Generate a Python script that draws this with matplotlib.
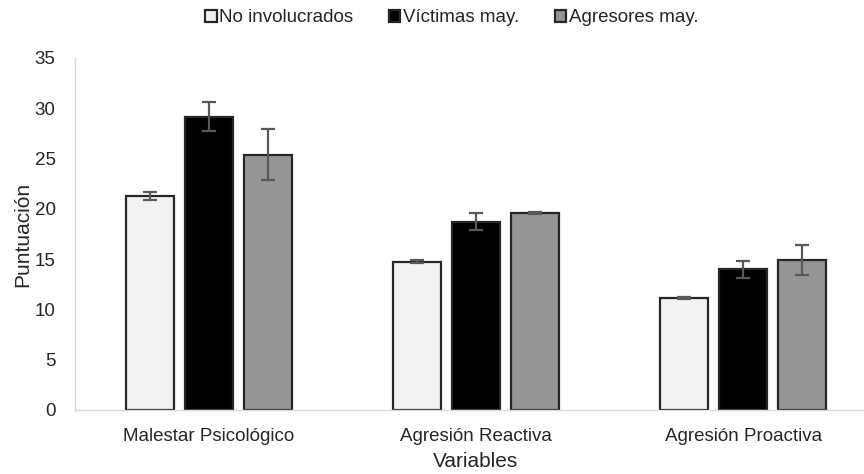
import matplotlib.pyplot as plt
import numpy as np
from matplotlib.patches import Patch

plt.rcParams['font.family'] = ['Liberation Sans', 'DejaVu Sans']

variables = ["Malestar Psicológico", "Agresión Reactiva", "Agresión Proactiva"]
groups = ["No involucrados", "Víctimas may.", "Agresores may."]

no_involucrados = [21.3, 14.75, 11.1]
victimas = [29.15, 18.7, 14.0]
agresores = [25.4, 19.55, 14.9]

err_no_involucrados = [0.4, 0.15, 0.1]
err_victimas = [1.45, 0.85, 0.85]
err_agresores = [2.5, 0.1, 1.5]

colors = ["#f2f2f2", "#000000", "#959595"]
text_col = "#262626"

fig = plt.figure(figsize=(8.64, 4.74), dpi=100)
ax = fig.add_axes([75 / 864, 1 - 410 / 474, 802 / 864, 352 / 474])

x = np.arange(len(variables))
width = 0.18
offset = 0.221

series = [no_involucrados, victimas, agresores]
errors = [err_no_involucrados, err_victimas, err_agresores]
for i, (vals, errs) in enumerate(zip(series, errors)):
    ax.bar(x + (i - 1) * offset, vals, width, color=colors[i],
           edgecolor="#262626", linewidth=1.6, zorder=2)
    ax.errorbar(x + (i - 1) * offset, vals, yerr=errs, fmt="none",
                ecolor="#595959", elinewidth=1.6, capsize=5, capthick=1.6,
                zorder=3)

ax.set_xlim(-0.5, 2.5)
ax.set_ylim(0, 35)
ax.set_yticks(range(0, 36, 5))
ax.set_xticks(x)
ax.set_xticklabels(variables)
ax.tick_params(axis="both", length=0, labelsize=13.5, colors=text_col)
ax.tick_params(axis="y", pad=14)
ax.tick_params(axis="x", pad=13)

for s in ["top", "right"]:
    ax.spines[s].set_visible(False)
for s in ["left", "bottom"]:
    ax.spines[s].set_color("#d9d9d9")
    ax.spines[s].set_linewidth(1)

ax.set_ylabel("Puntuación", fontsize=15, color=text_col, labelpad=2)
ax.set_xlabel("Variables", fontsize=15, color=text_col, labelpad=5)

handles = [Patch(facecolor=c, edgecolor="#262626", linewidth=1.6) for c in colors]
fig.legend(handles, groups, loc="center", bbox_to_anchor=(452 / 864, 1 - 18 / 474),
           ncol=3, frameon=False, fontsize=13.5, handlelength=0.6, handleheight=0.6,
           handletextpad=0.15, columnspacing=1.9, labelcolor=text_col)

fig.savefig("out.png", dpi=100)
